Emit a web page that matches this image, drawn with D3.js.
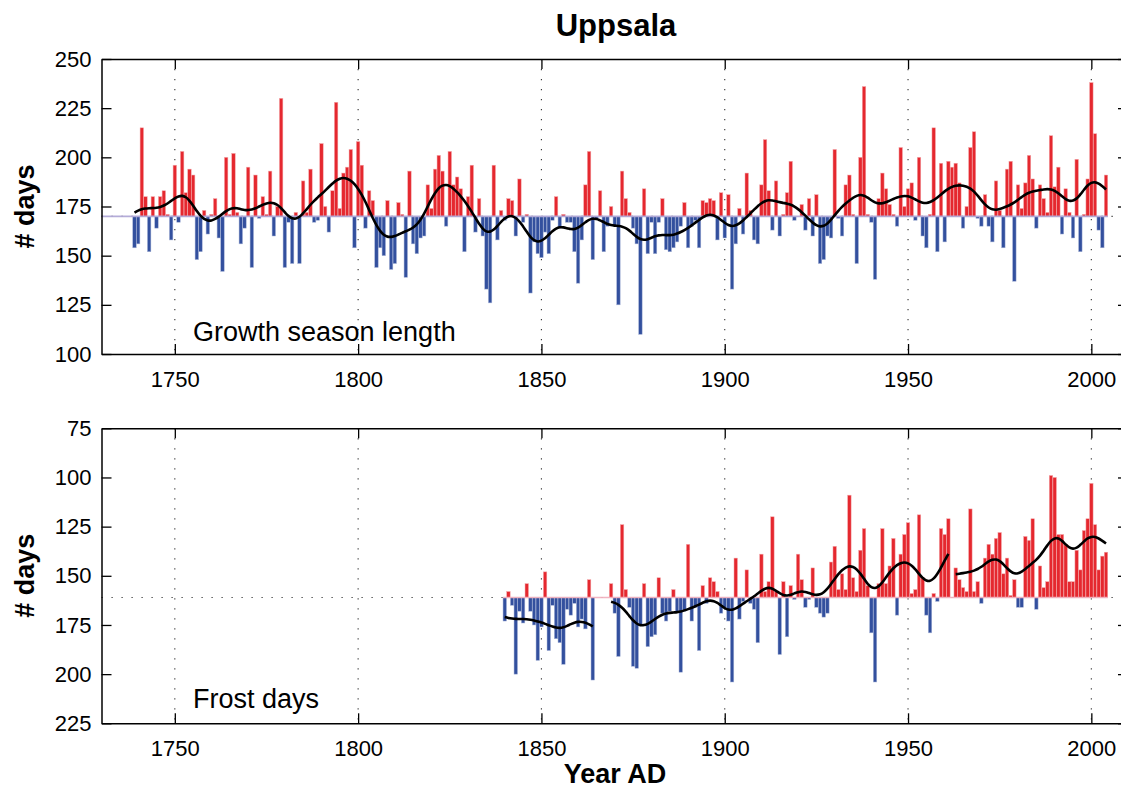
<!DOCTYPE html>
<html>
<head>
<meta charset="utf-8">
<script src="https://cdn.jsdelivr.net/npm/d3@7"></script>
<style>
  body { margin: 0; background: #fff; }
  svg { display: block; }
  text { font-family: "Liberation Sans", Arial, Helvetica, sans-serif; fill: #000; }
</style>
</head>
<body>
<svg id="chart" width="1121" height="789"></svg>
<script>
// Growth season length (days), one value per year from 1739
const growthStart = 1739;
const growthDays = [
  154,156,215,180,152,180,164,180,183,171,
  158,196,167,203,182,194,191,148,152,173,
  161,171,179,159,142,200,171,202,172,156,
  164,195,144,191,169,180,171,193,160,175,
  230,144,167,146,172,146,188,172,194,167,
  168,207,175,162,183,228,174,192,195,204,
  154,208,196,164,183,178,144,154,150,178,
  143,146,177,171,139,193,156,151,159,160,
  186,174,194,201,193,165,203,186,190,184,
  152,180,196,162,179,160,133,126,196,158,
  173,168,179,178,160,189,167,171,131,157,
  151,149,162,151,168,180,164,171,167,167,
  152,136,158,186,203,148,169,183,152,165,
  175,165,125,193,179,172,164,156,110,184,
  151,167,151,167,179,153,152,154,157,165,
  177,154,165,168,154,178,177,179,178,158,
  182,159,181,133,156,174,161,192,173,158,
  156,186,209,183,163,188,160,171,182,198,
  168,170,176,163,179,160,181,146,148,160,
  159,204,169,160,186,191,171,146,200,236,
  171,167,138,179,192,184,176,171,165,205,
  175,184,187,168,200,160,154,171,215,152,
  197,157,198,195,197,187,164,175,205,213,
  169,165,181,165,157,188,173,154,194,198,
  137,186,174,187,201,189,164,186,179,172,
  211,185,195,161,184,172,159,199,152,171,
  189,238,212,163,154,191
];

// Frost days per year from 1840 (null = no record)
const frostStart = 1840;
const frostDays = [
  173,158,165,200,168,174,154,168,175,193,
  176,148,188,165,182,184,195,167,170,164,
  176,172,177,152,203,null,null,null,null,154,
  169,191,124,157,166,196,197,175,154,186,
  181,180,151,169,173,168,157,168,199,168,
  134,173,166,188,155,164,151,153,158,169,
  166,173,204,141,172,163,147,164,167,184,
  139,158,153,120,158,190,153,181,155,162,
  139,152,166,162,146,166,169,171,169,143,
  135,157,149,157,109,151,158,137,126,155,
  179,204,154,126,154,145,131,170,139,129,
  123,159,157,119,151,170,179,159,163,126,
  129,121,null,146,152,156,158,116,158,153,
  164,141,134,139,131,128,149,141,160,152,
  166,166,130,132,121,167,145,156,153,99,
  100,129,129,134,153,153,137,147,127,121,
  103,124,147,140,138
];

const growthBase = 170;
const frostBase = 161;
const yearTicks = [1750, 1800, 1850, 1900, 1950, 2000];
const growthTicks = [100, 125, 150, 175, 200, 225, 250];
const frostTicks = [75, 100, 125, 150, 175, 200, 225];

const RED = "#e5282f";
const BLUE = "#33509e";
const FONT = '"Liberation Sans", Arial, Helvetica, sans-serif';

const svg = d3.select("#chart");
const x = d3.scaleLinear().domain([1730, 2010]).range([101.5, 1128]);

// Gaussian low-pass filter applied within each unbroken run of years
function smooth(records, sigma) {
  const runs = [];
  let cur = [];
  records.forEach(r => {
    if (r.v == null) { if (cur.length) runs.push(cur); cur = []; }
    else cur.push(r);
  });
  if (cur.length) runs.push(cur);
  return runs.map(run => run.map(p => {
    let sw = 0, s = 0;
    run.forEach(q => {
      const d = q.year - p.year;
      if (Math.abs(d) <= 3 * sigma) {
        const w = Math.exp(-0.5 * (d / sigma) * (d / sigma));
        sw += w; s += w * q.v;
      }
    });
    return { year: p.year, v: s / sw };
  }));
}

function panel(opts) {
  const { top, bottom, yDomain, ticks, base, values, start, label, labelY, baseColor } = opts;
  const y = d3.scaleLinear().domain(yDomain).range([top, bottom]);
  const g = svg.append("g");
  const records = values.map((v, i) => ({ year: start + i, v }));

  // dotted grid
  g.selectAll(".vgrid").data(yearTicks).join("line")
    .attr("x1", d => x(d)).attr("x2", d => x(d))
    .attr("y1", top).attr("y2", bottom)
    .attr("stroke", "#333").attr("stroke-width", 1.1)
    .attr("stroke-dasharray", "1.2 8.8");
  g.append("line")
    .attr("x1", x.range()[0]).attr("x2", x.range()[1])
    .attr("y1", y(base)).attr("y2", y(base))
    .attr("stroke", "#333").attr("stroke-width", 1.1)
    .attr("stroke-dasharray", "1.2 8.8");

  // anomaly bars about the reference level
  const bw = x(1) - x(0);
  g.selectAll(".bar").data(records.filter(r => r.v != null)).join("rect")
    .attr("x", d => x(d.year - 0.5) + 0.1)
    .attr("width", bw - 0.2)
    .attr("y", d => Math.min(y(d.v), y(base)))
    .attr("height", d => Math.abs(y(d.v) - y(base)))
    .attr("fill", d => (y(d.v) < y(base) ? RED : BLUE))
    .attr("stroke", d => (y(d.v) < y(base) ? "#f3a9ac" : "#a9b5d8"))
    .attr("stroke-width", 0.5);

  // reference level line across the record
  g.append("line")
    .attr("x1", opts.baseFrom).attr("x2", x(start + values.length - 0.5))
    .attr("y1", y(base)).attr("y2", y(base))
    .attr("stroke", baseColor).attr("stroke-width", 1.6);

  // smoothed curve
  const line = d3.line().x(d => x(d.year)).y(d => y(d.v)).curve(d3.curveCatmullRom);
  smooth(records, 3).forEach(seg => {
    g.append("path").datum(seg)
      .attr("d", line)
      .attr("fill", "none").attr("stroke", "#000").attr("stroke-width", 2.6);
  });

  // axes with inward ticks
  const styleAxis = sel => {
    sel.attr("font-family", FONT).attr("font-size", 22);
    sel.select(".domain").attr("stroke", "#000").attr("stroke-width", 1.5);
    sel.selectAll(".tick line").attr("stroke", "#000").attr("stroke-width", 1.3);
    sel.selectAll(".tick text").attr("fill", "#000");
  };
  svg.append("g").attr("transform", `translate(${x.range()[0]},0)`)
    .call(d3.axisLeft(y).tickValues(ticks).tickSize(-10).tickSizeOuter(0).tickPadding(10))
    .call(styleAxis);
  svg.append("g").attr("transform", `translate(${x.range()[1]},0)`)
    .call(d3.axisRight(y).tickValues(ticks).tickSize(-10).tickSizeOuter(0).tickFormat(""))
    .call(styleAxis);
  svg.append("g").attr("transform", `translate(0,${bottom})`)
    .call(d3.axisBottom(x).tickValues(yearTicks).tickSize(-10).tickSizeOuter(0).tickPadding(17).tickFormat(d3.format("d")))
    .call(styleAxis);
  svg.append("g").attr("transform", `translate(0,${top})`)
    .call(d3.axisTop(x).tickValues(yearTicks).tickSize(-10).tickSizeOuter(0).tickFormat(""))
    .call(styleAxis);

  // panel caption and y label
  svg.append("text").attr("x", 193).attr("y", labelY)
    .attr("font-size", 27).text(label);
  svg.append("text")
    .attr("transform", `translate(34,${(top + bottom) / 2}) rotate(-90)`)
    .attr("text-anchor", "middle").attr("font-size", 27).attr("font-weight", "bold")
    .text("# days");
}

panel({
  top: 59, bottom: 354, yDomain: [250, 100], ticks: growthTicks,
  base: growthBase, values: growthDays, start: growthStart,
  label: "Growth season length", labelY: 341,
  baseColor: "rgba(176,168,214,0.95)", baseFrom: x.range()[0]
});

panel({
  top: 428.3, bottom: 723.3, yDomain: [75, 225], ticks: frostTicks,
  base: frostBase, values: frostDays, start: frostStart,
  label: "Frost days", labelY: 708,
  baseColor: "rgba(240,176,190,0.95)", baseFrom: x(frostStart - 0.5)
});

svg.append("text").attr("x", 616).attr("y", 36)
  .attr("text-anchor", "middle").attr("font-size", 31).attr("font-weight", "bold")
  .text("Uppsala");
svg.append("text").attr("x", 615).attr("y", 783)
  .attr("text-anchor", "middle").attr("font-size", 27).attr("font-weight", "bold")
  .text("Year AD");
</script>
</body>
</html>
